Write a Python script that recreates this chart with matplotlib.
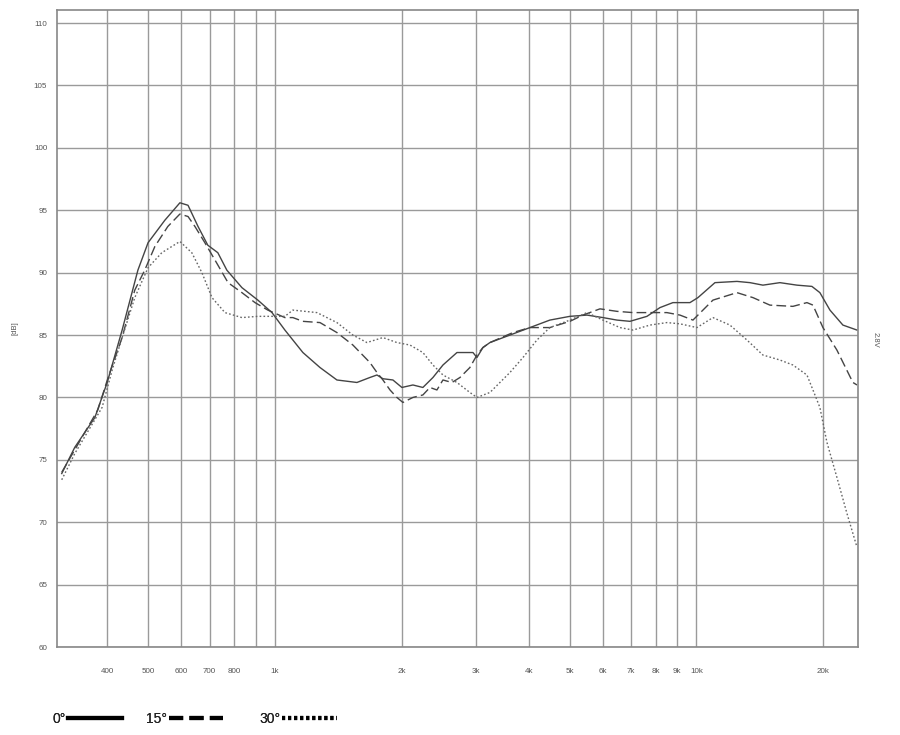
import matplotlib
matplotlib.use('Agg')
import matplotlib.pyplot as plt
from matplotlib.lines import Line2D

plt.rcParams['font.family'] = ['Liberation Sans', 'DejaVu Sans']

# 0 degree (solid)
freq_0 = [312, 335, 374, 400, 434, 473, 500, 548, 595, 622, 657, 693, 732, 769,
          835, 911, 984, 1056, 1165, 1279, 1403, 1565, 1680, 1746, 1804, 1905,
          2001, 2125, 2244, 2371, 2504, 2703, 2950, 3015, 3115, 3237, 3610, 4027,
          4490, 5010, 5499, 6001, 6479, 6955, 7632, 8193, 8795, 9652, 10083,
          11065, 12480, 13400, 14380, 15780, 17320, 18790, 19630, 20740, 22260,
          24040]
spl_0 = [73.9, 76.0, 78.4, 81.2, 85.4, 90.2, 92.4, 94.2, 95.6, 95.4, 93.7, 92.2,
         91.6, 90.2, 88.8, 87.8, 86.8, 85.4, 83.6, 82.4, 81.4, 81.2, 81.6, 81.8,
         81.5, 81.4, 80.8, 81.0, 80.8, 81.6, 82.6, 83.6, 83.6, 83.2, 84.0, 84.4,
         85.0, 85.6, 86.2, 86.5, 86.6, 86.4, 86.2, 86.1, 86.5, 87.2, 87.6, 87.6,
         88.0, 89.2, 89.3, 89.2, 89.0, 89.2, 89.0, 88.9, 88.4, 87.0, 85.8, 85.4]

# 15 degree (dashed)
freq_15 = [312, 335, 380, 402, 434, 465, 491, 519, 557, 595, 622, 646, 682, 721,
           774, 835, 897, 962, 1056, 1103, 1165, 1279, 1403, 1531, 1680, 1746,
           1804, 1875, 1947, 2012, 2125, 2244, 2332, 2423, 2504, 2630, 2748, 2901,
           3015, 3115, 3237, 3670, 4027, 4490, 5010, 5380, 5904, 6479, 7070, 7758,
           8511, 9140, 9811, 10943, 12480, 13620, 14940, 16940, 18290, 18900,
           19960, 21540, 23510, 24040]
spl_15 = [74.0, 75.8, 79.0, 81.6, 84.8, 88.6, 90.2, 92.1, 93.7, 94.7, 94.5, 93.7,
          92.4, 91.0, 89.2, 88.4, 87.6, 87.0, 86.4, 86.4, 86.1, 86.0, 85.2, 84.2,
          82.8, 82.0, 81.4, 80.6, 80.0, 79.6, 80.0, 80.2, 80.8, 80.6, 81.4, 81.2,
          81.6, 82.4, 83.4, 84.0, 84.4, 85.2, 85.6, 85.6, 86.1, 86.6, 87.1, 86.9,
          86.8, 86.8, 86.8, 86.6, 86.2, 87.8, 88.4, 88.0, 87.4, 87.3, 87.6, 87.4,
          85.6, 83.8, 81.2, 81.0]

# 30 degree (dotted)
freq_30 = [312, 335, 389, 411, 434, 465, 500, 539, 595, 635, 671, 709, 761, 835,
           911, 1056, 1103, 1258, 1403, 1531, 1653, 1804, 1947, 2091, 2244, 2371,
           2504, 2703, 2901, 3015, 3237, 3610, 3877, 4183, 4490, 5010, 5499, 6001,
           6586, 7070, 7758, 8511, 9140, 10028, 10943, 12010, 13180, 14380, 15780,
           16940, 18290, 18900, 19630, 20400, 21540, 22760, 24040]
spl_30 = [73.4, 75.5, 79.2, 82.2, 84.8, 88.0, 90.4, 91.6, 92.5, 91.6, 90.0, 88.0,
          86.8, 86.4, 86.5, 86.5, 87.0, 86.8, 86.0, 85.0, 84.4, 84.8, 84.4, 84.2,
          83.6, 82.6, 81.8, 81.2, 80.4, 80.0, 80.4, 82.0, 83.2, 84.6, 85.6, 86.2,
          86.8, 86.2, 85.6, 85.4, 85.8, 86.0, 85.9, 85.6, 86.4, 85.8, 84.6, 83.4,
          83.0, 82.6, 81.8, 80.6, 79.2, 76.4, 73.6, 70.7, 68.0]

x_ticks = [400, 500, 600, 700, 800, 900, 1000, 2000, 3000, 4000, 5000, 6000,
           7000, 8000, 9000, 10000, 20000]
x_labels = ['400', '500', '600', '700', '800', '', '1k', '2k', '3k', '4k', '5k',
            '6k', '7k', '8k', '9k', '10k', '20k']
y_ticks = [60, 65, 70, 75, 80, 85, 90, 95, 100, 105, 110]
legend_labels = ['0°', '15°', '30°']

fig = plt.figure(figsize=(9, 7.35), dpi=100)
ax = fig.add_axes([0.0633, 0.1197, 0.89, 0.8667])

ax.plot(freq_0, spl_0, '-', color='#444444', lw=1.0)
ax.plot(freq_15, spl_15, color='#444444', lw=1.0, dashes=(7, 3))
ax.plot(freq_30, spl_30, color='#666666', lw=1.0, dashes=(1.2, 1.6))

ax.set_xscale('log')
ax.set_xlim([304, 24170])
ax.set_ylim([60, 111.05])
ax.set_xticks(x_ticks)
ax.set_xticklabels(x_labels)
ax.minorticks_off()
ax.set_yticks(y_ticks)
ax.grid(True, color='#9a9a9a', lw=1.0)
ax.set_axisbelow(True)
ax.tick_params(length=0, labelsize=5.8, colors='#555555')
ax.tick_params(axis='x', pad=15)
ax.tick_params(axis='y', pad=7)
for s in ax.spines.values():
    s.set_color('#888888')
    s.set_linewidth(1.2)

ax.set_ylabel('[dB]', fontsize=5.5, color='#555555')
ax.yaxis.set_label_coords(-0.048, 0.5)
fig.text(0.972, 0.537, '2.8V', fontsize=5.5, color='#555555', rotation=-90,
         ha='center', va='center')

# legend below the chart: label first, then line sample
handles = [Line2D([], [], color='black', lw=3, ls='-'),
           Line2D([], [], color='black', lw=3, dashes=(3.4, 1.5)),
           Line2D([], [], color='black', lw=3, dashes=(0.75, 0.7))]
anchors = [0.055, 0.159, 0.285]
for h, lab, x0 in zip(handles, legend_labels, anchors):
    leg = fig.legend([h], [lab], loc='lower left', bbox_to_anchor=(x0, 0.008),
                     frameon=False, markerfirst=False, fontsize=10,
                     handlelength=3.9, handletextpad=0.15, borderpad=0.2,
                     borderaxespad=0)
    for t in leg.get_texts():
        t.set_color('#222222')
    fig.add_artist(leg)

plt.savefig('out.png')
plt.close(fig)
